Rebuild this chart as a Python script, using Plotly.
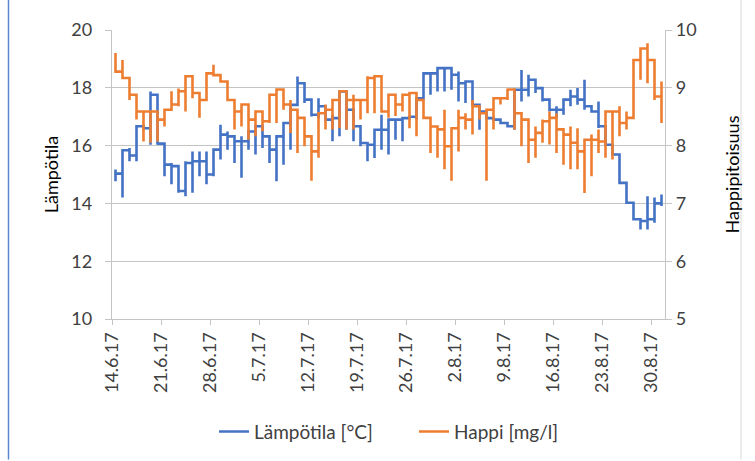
import plotly.graph_objects as go
from datetime import datetime, timedelta

# Daily readings: every day's measurements share one date position, so each
# day shows as a vertical span (low..high) joined to the next day at its close.
start_date = datetime(2017, 6, 14)
n_days = 79

temp_low = [14.77, 14.20, 15.46, 15.46, 16.55, 16.03, 16.03, 14.94, 14.66, 14.37,
            14.25, 14.37, 14.94, 14.66, 14.94, 15.52, 15.86, 15.40, 14.89, 15.86,
            15.69, 15.92, 15.40, 14.77, 15.34, 15.86, 17.41, 17.47, 17.01, 16.95,
            16.90, 16.15, 16.32, 16.55, 16.15, 15.98, 15.46, 15.57, 15.86, 15.69,
            16.20, 16.15, 16.95, 16.90, 17.64, 17.76, 17.87, 17.87, 17.93, 17.53,
            17.47, 17.41, 16.55, 16.95, 16.90, 16.78, 16.67, 16.55, 17.53, 17.70,
            17.82, 17.53, 17.18, 16.95, 17.07, 17.36, 17.41, 17.24, 17.18, 16.61,
            16.03, 15.69, 14.71, 14.02, 13.45, 13.10, 13.10, 13.33, 13.91]
temp_high = [15.17, 15.84, 15.92, 16.67, 16.67, 17.87, 17.70, 16.03, 15.40, 15.29,
             15.46, 15.80, 15.80, 15.80, 15.86, 16.72, 16.49, 16.32, 16.32, 16.55,
             16.61, 16.72, 16.32, 16.09, 16.38, 16.84, 18.39, 18.16, 17.59, 17.64,
             17.36, 17.07, 17.87, 17.87, 17.30, 16.67, 16.09, 16.55, 17.07, 16.95,
             16.95, 16.95, 17.00, 17.64, 18.50, 18.50, 18.68, 18.68, 18.68, 18.56,
             18.22, 18.22, 17.41, 17.18, 16.95, 16.90, 16.78, 17.93, 18.62, 18.45,
             18.28, 17.99, 17.59, 17.36, 17.59, 17.93, 17.99, 18.28, 17.36, 17.53,
             16.70, 16.03, 15.69, 14.71, 14.02, 13.45, 14.25, 14.20, 14.31]
temp_close = [15.03, 15.84, 15.66, 16.67, 16.60, 17.76, 16.07, 15.34, 15.29, 14.43,
              15.40, 15.46, 15.46, 15.00, 15.86, 16.38, 16.32, 16.15, 16.15, 16.49,
              16.67, 16.32, 15.86, 16.32, 16.78, 17.41, 18.16, 17.59, 17.07, 17.36,
              16.90, 16.95, 17.87, 17.24, 16.67, 16.09, 16.03, 16.55, 16.55, 16.90,
              16.90, 16.95, 17.00, 17.64, 18.50, 18.50, 18.68, 18.68, 18.45, 18.16,
              18.22, 17.41, 17.18, 16.95, 16.90, 16.78, 16.67, 17.93, 17.93, 18.28,
              17.99, 17.59, 17.24, 17.24, 17.59, 17.70, 17.59, 17.36, 17.18, 16.67,
              16.03, 15.69, 14.71, 14.02, 13.45, 13.39, 13.45, 14.00, 14.10]

oxy_low = [9.28, 9.17, 8.79, 8.45, 8.07, 8.05, 8.07, 8.33, 8.62, 8.68,
           8.59, 8.82, 8.48, 8.79, 9.20, 9.11, 8.79, 8.28, 8.33, 8.10,
           8.16, 8.25, 8.39, 8.39, 8.62, 8.22, 7.87, 7.99, 7.39, 7.79,
           8.28, 8.28, 8.30, 8.28, 8.28, 8.45, 8.56, 8.56, 8.59, 8.48,
           8.51, 8.59, 8.30, 8.16, 8.48, 7.87, 7.79, 7.59, 7.39, 7.90,
           8.28, 8.19, 8.45, 7.39, 8.28, 8.71, 8.79, 8.28, 7.99, 7.70,
           7.79, 8.05, 8.02, 7.87, 7.67, 7.59, 7.59, 7.18, 7.47, 7.87,
           7.79, 7.76, 8.16, 8.28, 8.48, 9.14, 9.08, 8.79, 8.39]
oxy_high = [9.60, 9.48, 9.17, 8.88, 8.59, 8.59, 8.59, 8.62, 8.94, 8.99,
            9.20, 9.20, 8.91, 9.25, 9.40, 9.22, 9.11, 8.79, 8.68, 8.71,
            8.59, 8.59, 8.88, 8.97, 8.97, 8.79, 8.62, 8.48, 8.16, 8.56,
            8.71, 8.79, 8.94, 8.94, 8.88, 8.79, 9.20, 9.17, 9.20, 8.88,
            8.88, 8.88, 8.91, 8.91, 8.79, 8.48, 8.33, 8.62, 8.02, 8.62,
            8.56, 8.79, 8.68, 8.62, 8.82, 8.82, 8.99, 8.97, 8.56, 8.45,
            8.33, 8.45, 8.59, 8.56, 8.28, 8.33, 8.30, 8.10, 8.19, 8.28,
            8.59, 8.59, 8.68, 8.59, 9.48, 9.68, 9.77, 9.48, 9.11]
oxy_close = [9.28, 9.17, 8.88, 8.59, 8.59, 8.59, 8.45, 8.62, 8.71, 8.94,
             9.20, 8.91, 8.79, 9.25, 9.22, 9.11, 8.79, 8.59, 8.71, 8.45,
             8.59, 8.42, 8.88, 8.97, 8.71, 8.62, 8.48, 8.16, 7.90, 8.56,
             8.62, 8.79, 8.94, 8.79, 8.79, 8.79, 9.17, 9.20, 8.59, 8.88,
             8.71, 8.88, 8.91, 8.79, 8.48, 8.33, 8.28, 7.99, 8.30, 8.48,
             8.45, 8.68, 8.56, 8.62, 8.82, 8.82, 8.97, 8.56, 8.45, 8.10,
             8.22, 8.42, 8.48, 8.28, 8.19, 8.05, 7.90, 8.10, 8.10, 8.07,
             8.59, 8.59, 8.39, 8.48, 9.48, 9.68, 9.48, 8.85, 8.39]

TEMP_COLOR = "#4472C4"
OXY_COLOR = "#ED7D31"
GRID = "#c4c4c4"
FONT = "Lato"
TEXT = "#404040"
FS = 18


def daily_path(low, high, close):
    """Chain each day's readings at the day's position (noon of that date)."""
    xs, ys = [], []
    prev = None
    for d, (lo, hi, cl) in enumerate(zip(low, high, close)):
        x = start_date + timedelta(days=d, hours=12)
        vals = ([prev] if prev is not None else []) + [lo, hi, cl]
        xs += [x] * len(vals)
        ys += vals
        prev = cl
    return xs, ys


tx, ty = daily_path(temp_low, temp_high, temp_close)
ox, oy = daily_path(oxy_low, oxy_high, oxy_close)

fig = go.Figure()
fig.add_trace(go.Scatter(x=tx, y=ty, mode="lines", name="Lämpötila [°C]",
                         line=dict(color=TEMP_COLOR, width=2.6), yaxis="y"))
fig.add_trace(go.Scatter(x=ox, y=oy, mode="lines", name="Happi [mg/l]",
                         line=dict(color=OXY_COLOR, width=2.6), yaxis="y2"))

L, R, T, B = 112, 665, 30, 320
W, H = 755, 461

fig.update_layout(
    width=W, height=H,
    margin=dict(l=L, r=W - R, t=T, b=H - B, pad=0),
    paper_bgcolor="white", plot_bgcolor="white",
    font=dict(family=FONT, size=FS, color=TEXT),
    showlegend=True,
    legend=dict(orientation="h", x=(214 - L) / (R - L), xanchor="left",
                y=-0.385, yanchor="middle", entrywidth=155,
                font=dict(size=19, color=TEXT), itemwidth=30),
    xaxis=dict(
        type="date",
        range=[start_date, start_date + timedelta(days=n_days)],
        tickmode="linear", tick0=start_date, dtick=7 * 86400000,
        tickformat="%-d.%-m.%y", tickangle=-90,
        ticks="outside", ticklen=5, tickcolor=GRID,
        showline=True, linecolor=GRID, linewidth=1.3,
        showgrid=False, zeroline=False,
        tickfont=dict(size=FS, color=TEXT),
    ),
    yaxis=dict(
        range=[10, 20], dtick=2, tick0=10,
        showgrid=True, gridcolor=GRID, gridwidth=1.3,
        showline=True, linecolor=GRID, linewidth=1.3,
        ticks="outside", ticklen=6, tickcolor=GRID, zeroline=False,
        ticklabelstandoff=9,
        tickfont=dict(size=FS, color=TEXT),
        title=dict(text="Lämpötila", font=dict(size=FS, color="#000000"), standoff=8),
    ),
    yaxis2=dict(
        range=[5, 10], dtick=1, tick0=5, overlaying="y", side="right",
        showgrid=False, showline=True, linecolor=GRID, linewidth=1.3,
        ticks="outside", ticklen=6, tickcolor=GRID, zeroline=False,
        tickfont=dict(size=FS, color=TEXT),
        title=dict(text="Happipitoisuus", font=dict(size=FS, color="#000000"), standoff=30),
    ),
    shapes=[
        dict(type="line", xref="paper", yref="paper",
             x0=(8.5 - L) / (R - L), x1=(8.5 - L) / (R - L),
             y0=(B - H) / (B - T), y1=B / (B - T),
             line=dict(color="#5b86cf", width=1.5)),
        dict(type="line", xref="paper", yref="paper",
             x0=(741 - L) / (R - L), x1=(741 - L) / (R - L),
             y0=(B - H) / (B - T), y1=B / (B - T),
             line=dict(color="#d9d9d9", width=1)),
    ],
)

fig.write_html("out.html")
